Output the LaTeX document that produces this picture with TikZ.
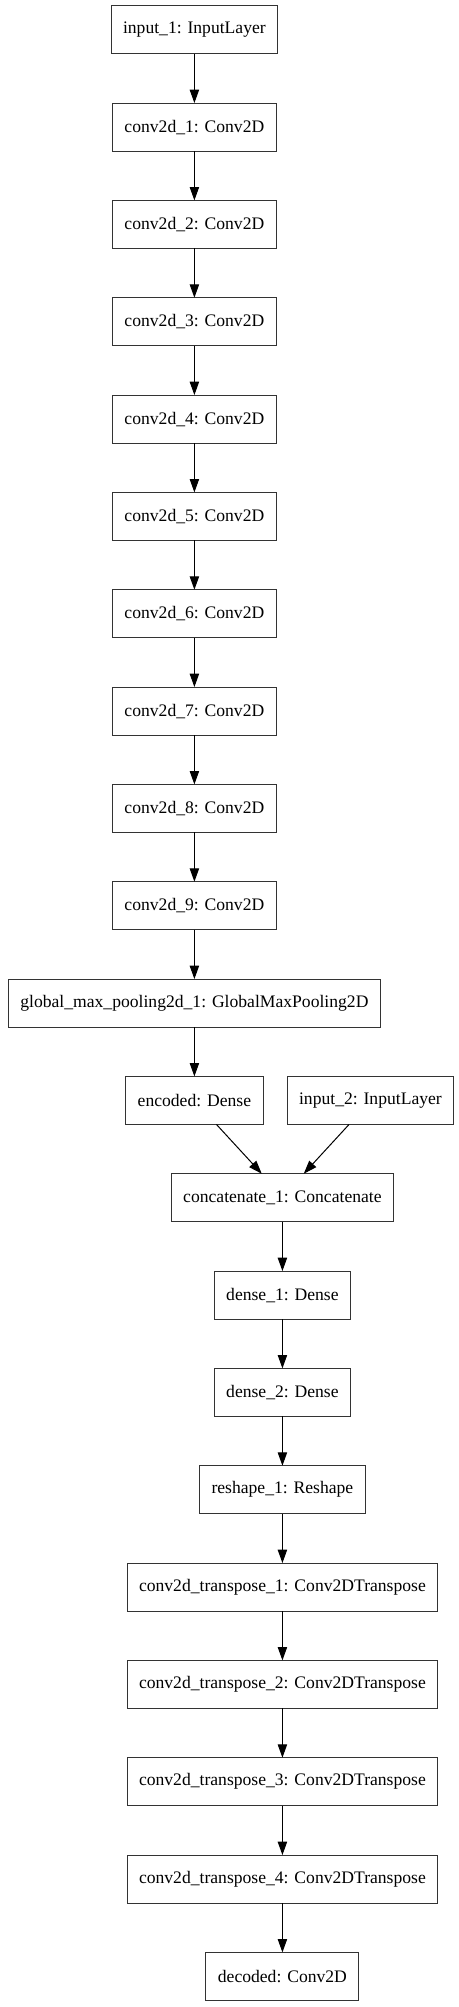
\documentclass[tikz,border=0pt]{standalone}
\usepackage{fontspec}
\setmainfont{Liberation Serif}
\usetikzlibrary{positioning}
\usetikzlibrary{arrows.meta}
\usetikzlibrary{calc}

\begin{document}
\begin{tikzpicture}[>={Triangle[length=10pt,width=7pt]},x=0.75pt,y=-0.75pt,line width=0.75pt,
	layer/.style={draw=black!80,minimum height=36pt,inner xsep=9pt,outer sep=0pt,font=\fontsize{13.2pt}{16pt}\selectfont},
	node distance=37pt]
	\useasboundingbox (0,0) rectangle (459,2007);

	% encoder
	\node [layer] at (194.4,29.7) (inp1) {input\_1: InputLayer};
	\node [layer,below=of inp1] (conv1) {conv2d\_1: Conv2D};
	\node [layer,below=of conv1] (conv2) {conv2d\_2: Conv2D};
	\node [layer,below=of conv2] (conv3) {conv2d\_3: Conv2D};
	\node [layer,below=of conv3] (conv4) {conv2d\_4: Conv2D};
	\node [layer,below=of conv4] (conv5) {conv2d\_5: Conv2D};
	\node [layer,below=of conv5] (conv6) {conv2d\_6: Conv2D};
	\node [layer,below=of conv6] (conv7) {conv2d\_7: Conv2D};
	\node [layer,below=of conv7] (conv8) {conv2d\_8: Conv2D};
	\node [layer,below=of conv8] (conv9) {conv2d\_9: Conv2D};
	\node [layer,below=of conv9] (gmp) {global\_max\_pooling2d\_1: GlobalMaxPooling2D};
	\node [layer,below=of gmp] (enc) {encoded: Dense};
	\node [layer,right=18pt of enc] (inp2) {input\_2: InputLayer};

	% decoder
	\coordinate (mid) at ($(enc.south)!.5!(inp2.south)$);
	\node [layer,below=of mid] (cat) {concatenate\_1: Concatenate};
	\node [layer,below=of cat] (dense1) {dense\_1: Dense};
	\node [layer,below=of dense1] (dense2) {dense\_2: Dense};
	\node [layer,below=of dense2] (resh) {reshape\_1: Reshape};
	\node [layer,below=of resh] (ct1) {conv2d\_transpose\_1: Conv2DTranspose};
	\node [layer,below=of ct1] (ct2) {conv2d\_transpose\_2: Conv2DTranspose};
	\node [layer,below=of ct2] (ct3) {conv2d\_transpose\_3: Conv2DTranspose};
	\node [layer,below=of ct3] (ct4) {conv2d\_transpose\_4: Conv2DTranspose};
	\node [layer,below=of ct4] (dec) {decoded: Conv2D};

	\draw[->] (inp1) -- (conv1);
	\draw[->] (conv1) -- (conv2);
	\draw[->] (conv2) -- (conv3);
	\draw[->] (conv3) -- (conv4);
	\draw[->] (conv4) -- (conv5);
	\draw[->] (conv5) -- (conv6);
	\draw[->] (conv6) -- (conv7);
	\draw[->] (conv7) -- (conv8);
	\draw[->] (conv8) -- (conv9);
	\draw[->] (conv9) -- (gmp);
	\draw[->] (gmp) -- (enc);
	\draw[->] ([xshift=16.5pt]enc.south) -- ([xshift=-15.5pt]cat.north);
	\draw[->] ([xshift=-16pt]inp2.south) -- ([xshift=16pt]cat.north);
	\draw[->] (cat) -- (dense1);
	\draw[->] (dense1) -- (dense2);
	\draw[->] (dense2) -- (resh);
	\draw[->] (resh) -- (ct1);
	\draw[->] (ct1) -- (ct2);
	\draw[->] (ct2) -- (ct3);
	\draw[->] (ct3) -- (ct4);
	\draw[->] (ct4) -- (dec);
\end{tikzpicture}
\end{document}
